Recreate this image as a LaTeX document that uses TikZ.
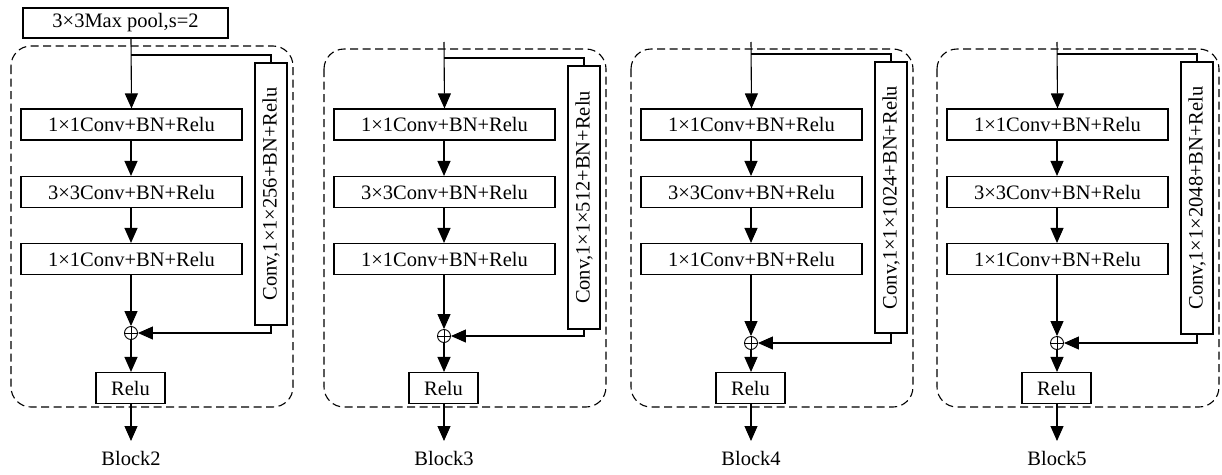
\documentclass[tikz,border=0pt]{standalone}
\usepackage{fontspec}
\setmainfont{Liberation Serif}
\usetikzlibrary{arrows.meta}
\tikzset{
  txt/.style={font=\fontsize{20.5}{24}\selectfont},
  box/.style={txt, draw, line width=1.1pt, minimum width=221pt, minimum height=31pt, inner sep=0pt},
  scbox/.style={txt, draw, line width=1.1pt, rotate=90, minimum height=32pt, inner sep=0pt},
  relubox/.style={txt, draw, line width=1.1pt, minimum width=69pt, minimum height=31pt, inner sep=0pt},
  dbox/.style={draw, line width=1.1pt, dash pattern=on 8pt off 4.5pt, rounded corners=20pt},
  arr/.style={-{Triangle[length=15pt,width=13pt]}, line width=1.1pt},
  ln/.style={line width=1.1pt},
  plusnode/.style={circle, draw, line width=0.9pt, minimum size=13pt, inner sep=0pt,
    path picture={\draw[line width=0.9pt] (path picture bounding box.north) -- (path picture bounding box.south)
      (path picture bounding box.west) -- (path picture bounding box.east);}}
}
% #1 id, #2 x, #3 dashed top, #4 branch y, #5 sc top, #6 sc bottom, #7 plus y, #8 sc text, #9 start y
\newcommand\resblk[9]{%
  \begin{scope}[xshift=#2pt]
    \draw[dbox] (-120,#3) rectangle (162,407);
    \coordinate (T#1) at (0,#9);
    \coordinate (R#1) at (0,#4);
    \node[box] (B#1a) at (0.5,124.5) {1×1Conv+BN+Relu};
    \node[box] (B#1b) at (0.5,192) {3×3Conv+BN+Relu};
    \node[box] (B#1c) at (0.5,259) {1×1Conv+BN+Relu};
    \pgfmathsetmacro\scc{(#5+#6)/2}
    \pgfmathsetmacro\sch{#6-#5}
    \node[scbox, minimum width=\sch pt] (S#1) at (140,\scc) {Conv,1×1×#8+BN+Relu};
    \node[plusnode] (P#1) at (0,#7) {};
    \node[relubox] (L#1) at (-0.5,388) {Relu};
    \coordinate (O#1) at (0,441);
    \node[txt] (N#1) at (0,458) {Block#1};
    \draw[arr] (T#1) -- (B#1a.north);
    \draw[ln] (R#1) -| (S#1.east);
    \draw[arr] (B#1a.south -| T#1) -- (B#1b.north -| T#1);
    \draw[arr] (B#1b.south -| T#1) -- (B#1c.north -| T#1);
    \draw[arr] (B#1c.south -| T#1) -- (P#1.north);
    \draw[arr] (S#1.west) |- (P#1.east);
    \draw[arr] (P#1.south) -- (L#1.north -| T#1);
    \draw[arr] (L#1.south -| T#1) -- (O#1);
  \end{scope}}
\begin{document}
\begin{tikzpicture}[x=1pt,y=-1pt]
  \useasboundingbox (0,0) rectangle (1222,474);
  \node[txt, draw, line width=1.1pt, minimum width=205pt, minimum height=30pt, inner sep=0pt] (pool) at (125.5,23) {3×3Max pool,s=2};
  \resblk{2}{131}{46}{55}{63}{325}{333}{256}{38}
  \resblk{3}{444}{49}{58}{66}{329}{336}{512}{42}
  \resblk{4}{751}{49}{54}{62}{333}{343}{1024}{42}
  \resblk{5}{1057}{49}{54}{62}{334}{343}{2048}{42}
\end{tikzpicture}
\end{document}
